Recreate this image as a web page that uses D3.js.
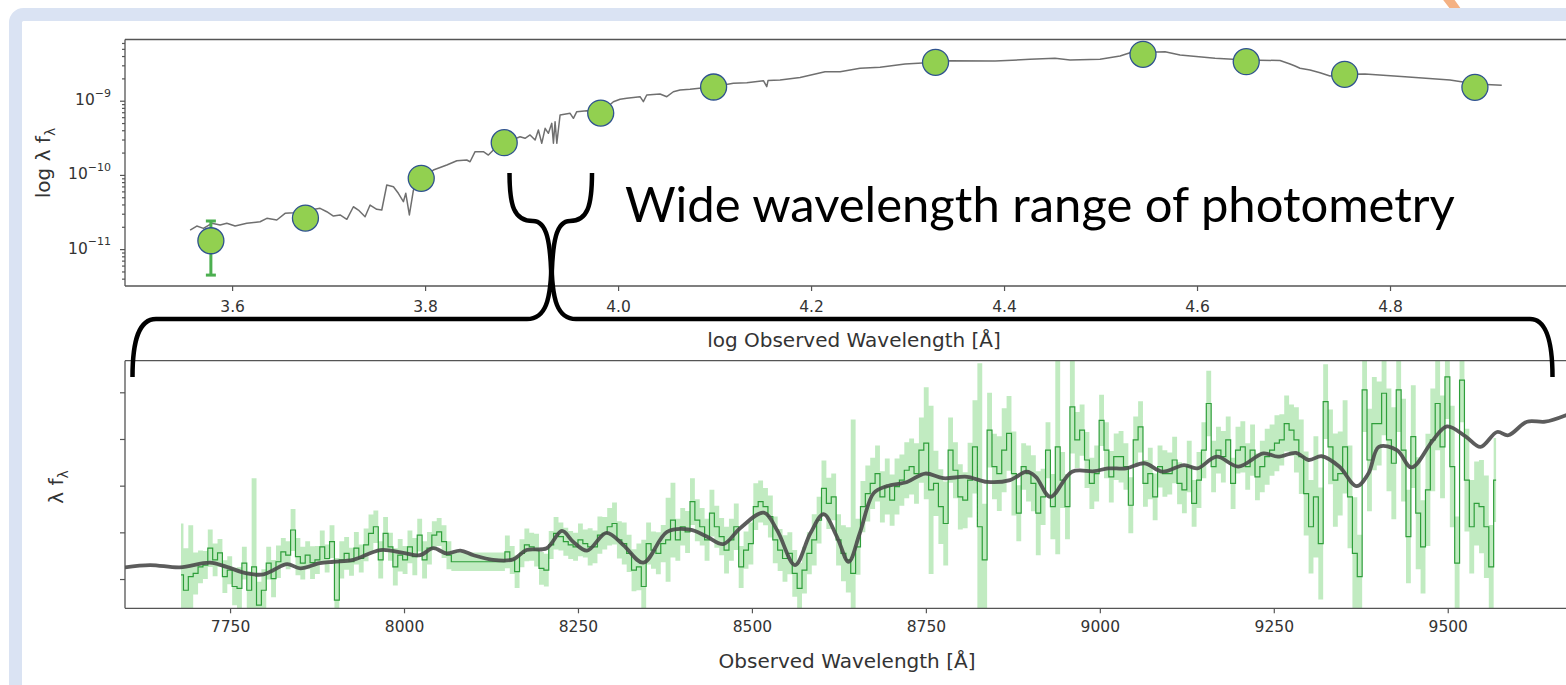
<!DOCTYPE html>
<html>
<head>
<meta charset="utf-8">
<script src="https://cdn.jsdelivr.net/npm/d3@7"></script>
<style>
  html, body { margin: 0; padding: 0; background: #fff; }
  svg { display: block; }
</style>
</head>
<body>
<svg id="chart" width="1566" height="685"></svg>
<script>

// ---- top panel: photometry + SED model (log lambda vs log flux) ----
const topTicksX = [3.6, 3.8, 4.0, 4.2, 4.4, 4.6, 4.8]
const topMajorY = [1e-11, 1e-10, 1e-9]

const photLogWave = [3.578, 3.676, 3.796, 3.882, 3.982, 4.099, 4.329, 4.544, 4.651, 4.753, 4.888]
const photLogFlux = [-10.887, -10.581, -10.046, -9.566, -9.166, -8.815, -8.482, -8.375, -8.474, -8.644, -8.819]
const photErrDn   = [0.463, 0.02, 0.02, 0.02, 0.02, 0.02, 0.02, 0.02, 0.02, 0.02, 0.02]
const photErrUp   = [0.265, 0.02, 0.02, 0.02, 0.02, 0.02, 0.02, 0.02, 0.02, 0.02, 0.02]

const sedLogWave = [3.5565,3.5634,3.5703,3.5790,3.5876,3.5945,3.6031,3.6152,3.6290,3.6360,3.6463,3.6549,3.6635,3.6756,
  3.6912,3.6981,3.7050,3.7119,3.7189,3.7257,3.7309,3.7378,3.7430,3.7499,3.7551,3.7603,3.7672,3.7723,3.7775,3.7800,
  3.7837,3.7879,3.7959,3.8086,3.8225,3.8329,3.8432,3.8466,3.8518,3.8604,3.8656,3.8708,3.8829,3.8984,3.9036,3.9088,
  3.9140,3.9174,3.9209,3.9244,3.9278,3.9313,3.9330,3.9347,3.9365,3.9399,3.9503,3.9537,3.9572,3.9676,3.9824,3.9951,
  4.0021,4.0090,4.0228,4.0262,4.0297,4.0435,4.0505,4.0573,4.0642,4.0746,4.0988,4.1195,4.1334,4.1506,4.1541,4.1554,
  4.1679,4.1886,4.2145,4.2301,4.2508,4.2715,4.2974,4.3290,4.3440,4.3907,4.4269,4.4528,4.4684,4.4995,4.5202,4.5306,
  4.5435,4.5668,4.5824,4.6187,4.6508,4.6860,4.6964,4.7016,4.7067,4.7171,4.7275,4.7378,4.7534,4.7741,4.8155,4.8622,
  4.8891,4.9158]
const sedLogFlux = [-10.743,-10.689,-10.720,-10.652,-10.675,-10.652,-10.689,-10.652,-10.631,-10.585,-10.608,-10.518,
  -10.509,-10.487,-10.450,-10.496,-10.554,-10.540,-10.598,-10.429,-10.473,-10.563,-10.406,-10.464,-10.473,-10.136,
  -10.159,-10.248,-10.361,-10.248,-10.540,-10.204,-10.042,-9.934,-9.867,-9.809,-9.799,-9.822,-9.687,-9.687,-9.732,
  -9.664,-9.570,-9.485,-9.507,-9.462,-9.530,-9.395,-9.574,-9.372,-9.439,-9.305,-9.574,-9.283,-9.574,-9.193,-9.170,
  -9.237,-9.148,-9.135,-9.162,-9.013,-8.981,-8.968,-8.946,-9.013,-8.923,-8.910,-8.946,-8.879,-8.856,-8.846,-8.811,
  -8.765,-8.757,-8.730,-8.811,-8.728,-8.721,-8.687,-8.609,-8.609,-8.563,-8.550,-8.505,-8.482,-8.461,-8.465,-8.442,
  -8.429,-8.451,-8.442,-8.398,-8.353,-8.350,-8.340,-8.384,-8.429,-8.451,-8.458,-8.505,-8.532,-8.563,-8.586,-8.623,
  -8.667,-8.644,-8.640,-8.677,-8.721,-8.775,-8.792]

// ---- bottom panel: spectrum (arbitrary units) + smooth model ----
const botTicksX = [7750, 8000, 8250, 8500, 8750, 9000, 9250, 9500]
const botTicksY = [1, 2, 3, 4, 5]

const specStart = 7679.5   // first bin centre [A]
const specStep = 7         // bin width [A]
const specFlux = [
  1.09,0.76,1.05,1.12,1.26,1.30,1.66,1.41,1.56,1.05, 1.19,0.84,0.80,1.34,0.76,1.26,0.44,0.76,1.34,1.01,
  1.37,1.58,1.51,2.05,1.48,1.34,1.51,1.35,1.41,1.69, 1.44,1.80,0.55,1.41,1.55,1.37,1.66,1.44,1.73,1.98,
  2.12,1.41,1.98,1.69,1.26,1.51,1.41,1.69,1.48,1.94, 1.41,1.66,1.94,2.01,1.80,1.51,1.37,1.37,1.37,1.37,
  1.37,1.37,1.37,1.37,1.37,1.37,1.37,1.58,1.41,1.16, 1.55,1.73,1.69,1.62,1.23,1.19,1.73,1.98,1.91,1.80,
  1.73,1.69,1.84,1.76,1.69,1.69,1.94,1.98,2.12,2.19, 1.84,1.76,1.55,1.19,1.26,0.84,1.76,1.62,1.55,1.76,
  1.84,2.26,1.84,2.12,2.01,2.66,2.26,2.12,1.84,2.41, 2.12,1.91,1.62,1.84,2.12,1.26,1.62,1.76,2.55,2.66,
  2.55,2.34,1.84,1.62,1.44,1.55,1.12,0.80,1.19,1.55, 1.84,2.26,2.94,2.62,2.76,1.84,1.55,1.41,1.12,1.69,
  2.55,2.83,3.05,3.26,2.76,2.98,2.69,2.98,3.12,3.33, 3.41,3.26,3.76,3.91,2.91,3.05,2.55,2.19,3.76,3.33,
  2.76,2.69,3.12,3.83,2.12,1.41,4.19,3.41,3.26,3.76, 4.12,3.26,2.41,3.41,3.26,3.05,2.41,2.76,3.76,2.55,
  3.83,3.12,2.55,4.69,3.98,4.19,3.55,3.05,3.26,4.40, 3.76,3.19,3.62,3.62,3.41,2.58,3.98,4.26,3.05,3.26,
  2.76,3.41,3.26,3.26,3.55,3.05,2.91,3.41,2.62,3.12, 3.76,4.76,3.41,3.76,3.62,3.98,3.05,3.76,3.83,3.41,
  3.76,3.19,3.41,3.62,3.76,3.91,3.98,4.33,4.19,3.98, 3.62,2.83,2.12,2.76,1.76,4.80,3.83,3.12,3.26,3.83,
  2.76,1.55,1.05,5.05,3.55,4.33,4.33,4.98,3.98,3.48, 5.05,3.76,1.91,4.05,2.41,1.69,2.91,3.98,4.76,3.83,
  5.33,3.41,1.34,5.26,3.12,2.12,2.62,2.55,2.12,1.26, 3.12]
const specErr = [
  1.1,0.9,1.1,0.45,0.35,0.3,0.4,0.35,0.3,0.35, 0.3,0.4,0.45,0.35,0.4,1.9,0.5,0.45,0.35,0.4,
  0.35,0.3,0.3,0.45,0.4,0.35,0.3,0.35,0.3,0.35, 0.3,0.35,0.9,0.4,0.35,0.3,0.35,0.3,0.35,0.4,
  0.35,0.4,0.35,0.3,0.4,0.35,0.3,0.35,0.4,0.35, 0.4,0.35,0.3,0.3,0.35,0.3,0.2,0.2,0.2,0.2,
  0.2,0.2,0.2,0.2,0.2,0.2,0.2,0.35,0.3,0.35, 0.3,0.35,0.3,0.35,0.35,0.35,0.3,0.35,0.3,0.3,
  0.3,0.3,0.35,0.3,0.4,0.35,0.4,0.35,0.4,0.45, 0.4,0.45,0.4,0.45,0.5,1.0,0.45,0.4,0.45,0.4,
  0.9,0.8,0.45,0.4,0.45,0.5,0.45,0.4,0.45,0.5, 0.45,0.4,0.5,0.45,0.5,0.45,0.4,0.45,0.5,0.45,
  0.4,0.45,0.5,0.45,0.5,0.45,0.5,0.55,0.5,0.45, 0.55,0.5,0.6,0.55,0.5,0.55,0.6,0.7,3.3,0.6,
  0.55,0.6,0.55,0.6,0.55,0.6,0.55,0.6,0.55,0.6, 0.6,0.65,0.7,1.2,1.8,0.7,0.8,0.9,0.7,0.6,
  0.7,0.6,0.8,1.0,3.5,1.2,0.8,0.7,0.8,0.9, 0.8,0.9,0.6,0.5,0.6,0.6,0.9,0.6,0.6,0.7,
  2.3,0.6,0.7,1.0,0.6,0.55,0.6,0.55,0.6,0.55, 0.6,0.55,0.5,0.55,0.5,0.6,0.5,0.55,0.5,0.55,
  0.5,0.45,0.5,0.45,0.5,0.45,0.5,0.55,0.5,0.6, 0.6,0.7,0.55,0.5,0.55,0.5,0.55,0.5,0.55,0.5,
  0.55,0.5,0.55,0.6,0.55,0.6,0.55,0.6,0.55,0.7, 0.8,0.9,1.0,1.3,1.2,0.8,0.8,1.0,0.9,1.0,
  1.1,1.2,0.9,0.9,1.1,1.0,0.9,0.9,1.1,1.2, 0.9,1.1,1.0,1.1,1.2,1.0,1.2,1.1,1.0,1.1,
  0.9,1.3,1.0,0.9,1.1,1.0,0.9,1.0,1.1,0.9, 0.9]

const modelWave = [7599,7635,7678,7721,7745,7774,7798,7812,7832,7851,7879,7899,7927,7966,7999,8023,8042,8061,
  8081,8100,8128,8157,8176,8205,8227,8243,8263,8291,8315,8344,8378,8411,8435,8459,8483,8517,8536,8562,8584,8603,
  8622,8639,8655,8675,8694,8723,8749,8775,8809,8838,8871,8895,8908,8929,8960,8992,9012,9038,9064,9090,9121,9140,
  9168,9199,9235,9256,9282,9300,9319,9344,9369,9386,9401,9427,9448,9479,9499,9526,9547,9571,9587,9614,9640,9670]
const modelFlux = [1.25,1.30,1.25,1.35,1.26,1.12,1.10,1.19,1.32,1.23,1.34,1.37,1.41,1.62,1.56,1.51,1.66,1.55,
  1.61,1.51,1.41,1.42,1.62,1.66,2.03,1.80,1.61,1.99,1.73,1.35,2.01,2.06,1.91,1.75,2.09,2.42,2.05,1.30,1.98,2.39,
  1.91,1.37,1.98,2.84,2.99,3.08,3.26,3.16,3.19,3.08,3.12,3.30,3.19,2.76,3.30,3.31,3.37,3.37,3.48,3.30,3.44,3.37,
  3.62,3.41,3.69,3.62,3.70,3.55,3.63,3.41,2.99,3.26,3.83,3.76,3.39,3.98,4.27,4.05,3.83,4.15,4.08,4.37,4.37,4.51]


const svg = d3.select('#chart')
const tickFont = '"DejaVu Sans", sans-serif'
const axisColor = '#555'
const tickSize = 15.5

// slide background: orange arc peeking over the light blue frame
svg.append('path')
  .attr('d', 'M1444,-6 Q1451,2 1459,14')
  .attr('fill', 'none').attr('stroke', '#f4b183').attr('stroke-width', 9)
svg.append('rect')
  .attr('x', 15.5).attr('y', 14.5).attr('width', 1800).attr('height', 900).attr('rx', 8)
  .attr('fill', '#fff').attr('stroke', '#dae3f3').attr('stroke-width', 13)

function styleAxis(g){
  g.select('.domain').remove()
  g.selectAll('.tick line').attr('stroke', axisColor).attr('stroke-width', 1.2)
  g.selectAll('text').attr('font-family', tickFont).attr('font-size', tickSize).attr('fill', '#333')
}

function drawSpines(x, y){
  const [x0] = x.range(), [y1, y0] = y.range()
  svg.append('path')
    .attr('d', `M${x0},${y0}H1600M${x0},${y0}V${y1}M${x0},${y1}H1600`)
    .attr('fill', 'none').attr('stroke', axisColor).attr('stroke-width', 1.3)
}

// ================= top panel =================
const xTop = d3.scaleLinear().domain([3.489, 5.0]).range([125, 1583])
const yTop = d3.scaleLog().domain([Math.pow(10, -11.497), Math.pow(10, -8.175)]).range([286, 39.5])

svg.append('clipPath').attr('id', 'clipTop').append('rect')
  .attr('x', 125).attr('y', 39.5).attr('width', 1500).attr('height', 246.5)

const gTop = svg.append('g').attr('clip-path', 'url(#clipTop)')

const sed = sedLogWave.map((w, i) => ({w, f: Math.pow(10, sedLogFlux[i])}))
gTop.append('path')
  .datum(sed)
  .attr('fill', 'none').attr('stroke', '#5f5f5f').attr('stroke-width', 1.5).attr('stroke-opacity', 0.9)
  .attr('stroke-linejoin', 'round')
  .attr('d', d3.line().x(d => xTop(d.w)).y(d => yTop(d.f)))

const phot = photLogWave.map((w, i) => ({
  w, f: Math.pow(10, photLogFlux[i]),
  lo: Math.pow(10, photLogFlux[i] - photErrDn[i]),
  hi: Math.pow(10, photLogFlux[i] + photErrUp[i])
}))

const eb = gTop.append('g').attr('stroke', '#4caf50').attr('stroke-width', 3)
eb.selectAll('line.bar').data(phot).join('line').attr('class', 'bar')
  .attr('x1', d => xTop(d.w)).attr('x2', d => xTop(d.w))
  .attr('y1', d => yTop(d.lo)).attr('y2', d => yTop(d.hi))
eb.selectAll('line.capl').data(phot).join('line').attr('class', 'capl')
  .attr('x1', d => xTop(d.w) - 5).attr('x2', d => xTop(d.w) + 5)
  .attr('y1', d => yTop(d.lo)).attr('y2', d => yTop(d.lo))
eb.selectAll('line.caph').data(phot).join('line').attr('class', 'caph')
  .attr('x1', d => xTop(d.w) - 5).attr('x2', d => xTop(d.w) + 5)
  .attr('y1', d => yTop(d.hi)).attr('y2', d => yTop(d.hi))

svg.append('g').selectAll('circle').data(phot).join('circle')
  .attr('cx', d => xTop(d.w)).attr('cy', d => yTop(d.f)).attr('r', 13)
  .attr('fill', '#92d050').attr('stroke', '#2f528f').attr('stroke-width', 1.3)

drawSpines(xTop, yTop)

const gTopX = svg.append('g').attr('transform', 'translate(0,286)')
  .call(d3.axisBottom(xTop).tickValues(topTicksX).tickFormat(d3.format('.1f')).tickSize(5).tickSizeOuter(0))
styleAxis(gTopX)
gTopX.selectAll('text').attr('y', 26).attr('dy', null)

const minorY = yTop.ticks().filter(v => !topMajorY.includes(v))
const gTopYm = svg.append('g').attr('transform', 'translate(125,0)')
  .call(d3.axisLeft(yTop).tickValues(minorY).tickFormat('').tickSize(3).tickSizeOuter(0))
styleAxis(gTopYm)
const gTopY = svg.append('g').attr('transform', 'translate(125,0)')
  .call(d3.axisLeft(yTop).tickValues(topMajorY).tickFormat('').tickSize(5).tickSizeOuter(0))
styleAxis(gTopY)
gTopY.selectAll('.tick').each(function(v){
  const t = d3.select(this).append('text')
    .attr('x', -14).attr('y', 0).attr('dy', '0.4em').attr('text-anchor', 'end')
    .attr('font-family', tickFont).attr('fill', '#333')
  t.append('tspan').attr('font-size', tickSize).text('10')
  t.append('tspan').attr('font-size', 11).attr('dy', '-0.75em').text('\u2212' + Math.round(-Math.log10(v)))
})

// axis titles
const ylabTop = svg.append('text').attr('transform', 'translate(50,163) rotate(-90)')
  .attr('text-anchor', 'middle').attr('font-family', tickFont).attr('font-size', 20).attr('fill', '#333')
ylabTop.append('tspan').text('log \u03bb f')
ylabTop.append('tspan').attr('font-size', 14).attr('dy', 5).text('\u03bb')

svg.append('text').attr('x', 854).attr('y', 347).attr('text-anchor', 'middle')
  .attr('font-family', tickFont).attr('font-size', 20).attr('fill', '#333')
  .text('log Observed Wavelength [\u00c5]')

// ================= bottom panel =================
const xBot = d3.scaleLinear().domain([7599, 9700]).range([125, 1586.9])
const yBot = d3.scaleLinear().domain([0.373, 5.677]).range([608.3, 360.7])

svg.append('clipPath').attr('id', 'clipBot').append('rect')
  .attr('x', 125).attr('y', 360.7).attr('width', 1500).attr('height', 247.6)
const gBot = svg.append('g').attr('clip-path', 'url(#clipBot)')

const spec = specFlux.map((f, i) => ({w: specStart + specStep * i, f, e: specErr[i]}))

gBot.append('path').datum(spec)
  .attr('fill', '#8edb8e').attr('fill-opacity', 0.55)
  .attr('d', d3.area().curve(d3.curveStep)
    .x(d => xBot(d.w)).y0(d => yBot(d.f - d.e)).y1(d => yBot(d.f + d.e)))

gBot.append('path').datum(spec)
  .attr('fill', 'none').attr('stroke', '#2e9e3a').attr('stroke-width', 1.2)
  .attr('d', d3.line().curve(d3.curveStep).x(d => xBot(d.w)).y(d => yBot(d.f)))

const model = modelWave.map((w, i) => ({w, f: modelFlux[i]}))
gBot.append('path').datum(model)
  .attr('fill', 'none').attr('stroke', '#4a4a4a').attr('stroke-width', 3.8).attr('stroke-opacity', 0.9)
  .attr('stroke-linejoin', 'round').attr('stroke-linecap', 'round')
  .attr('d', d3.line().curve(d3.curveCatmullRom.alpha(0.5)).x(d => xBot(d.w)).y(d => yBot(d.f)))

drawSpines(xBot, yBot)

const gBotX = svg.append('g').attr('transform', 'translate(0,608.3)')
  .call(d3.axisBottom(xBot).tickValues(botTicksX).tickFormat(d3.format('d')).tickSize(5).tickSizeOuter(0))
styleAxis(gBotX)
gBotX.selectAll('text').attr('y', 24).attr('dy', null)

const gBotY = svg.append('g').attr('transform', 'translate(125,0)')
  .call(d3.axisLeft(yBot).tickValues(botTicksY).tickFormat('').tickSize(5).tickSizeOuter(0))
styleAxis(gBotY)

const ylabBot = svg.append('text').attr('transform', 'translate(63,487) rotate(-90)')
  .attr('text-anchor', 'middle').attr('font-family', tickFont).attr('font-size', 20).attr('fill', '#333')
ylabBot.append('tspan').text('\u03bb f')
ylabBot.append('tspan').attr('font-size', 14).attr('dy', 5).text('\u03bb')

svg.append('text').attr('x', 847).attr('y', 668).attr('text-anchor', 'middle')
  .attr('font-family', tickFont).attr('font-size', 20).attr('fill', '#333')
  .text('Observed Wavelength [\u00c5]')

// ================= annotation: braces + caption =================
const brace = svg.append('g').attr('fill', 'none').attr('stroke', '#000')
  .attr('stroke-width', 4.5).attr('stroke-linecap', 'butt')
brace.append('path').attr('d', 'M509.5,173 C509.5,206 514,221 533,221 C546,221 551.5,238 551.5,292')
brace.append('path').attr('d', 'M592,173 C592,206 587.5,221 570,221 C557,221 551.5,238 551.5,292')
brace.append('path').attr('d', 'M551.5,258 C551.5,302 545,319 527,319 L156,319 C139,319 132.5,340 132.5,377')
brace.append('path').attr('d', 'M551.5,258 C551.5,302 558,319 576,319 L1530,319 C1546,319 1552.5,340 1552.5,377')

const caption = svg.append('text').attr('x', 625).attr('y', 221.7)
  .attr('font-family', 'Lato, "Open Sans", sans-serif').attr('font-size', 50).attr('fill', '#000')
  .text('Wide wavelength range of photometry')
const capLen = caption.node().getComputedTextLength()
caption.attr('font-size', 50 * 830 / capLen)

</script>
</body>
</html>
